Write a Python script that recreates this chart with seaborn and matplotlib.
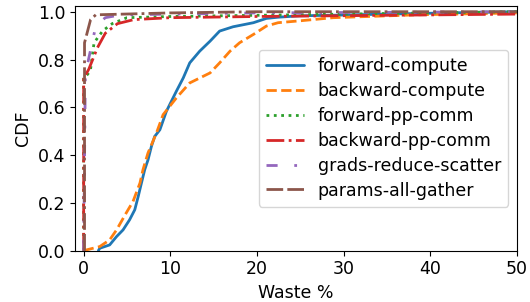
"""CDF of waste percentage per operation type."""

import matplotlib
matplotlib.use("Agg")
import matplotlib.pyplot as plt
import seaborn as sns

# CDF knots: waste % (x) and cumulative fraction (y)
fwd_compute_x = [1.7, 1.85, 3.0, 3.8, 4.55, 5.3, 5.9, 6.3, 6.67, 7.05, 7.43, 7.82, 8.2,
                 8.8, 9.55, 10.7, 11.5, 12.25, 13.4, 14.6, 15.7, 17.25, 19.6, 21.1,
                 22.45, 25.0, 28.5, 35.0, 42.0, 50.0]
fwd_compute_y = [0.0, 0.01, 0.024, 0.059, 0.087, 0.129, 0.171, 0.227, 0.283, 0.339, 0.38,
                 0.436, 0.478, 0.506, 0.583, 0.667, 0.723, 0.786, 0.835, 0.877, 0.919,
                 0.937, 0.954, 0.972, 0.977, 0.983, 0.985, 0.99, 0.995, 1.0]

bwd_compute_x = [0.0, 0.3, 1.85, 3.0, 3.8, 4.9, 5.7, 6.5, 6.85, 7.43, 8.4, 9.17, 10.7,
                 12.25, 14.6, 15.7, 16.9, 18.0, 19.6, 21.1, 22.45, 25.0, 28.8, 38.5, 50.0]
bwd_compute_y = [0.0, 0.003, 0.017, 0.045, 0.087, 0.157, 0.206, 0.283, 0.339, 0.409,
                 0.492, 0.569, 0.639, 0.702, 0.744, 0.786, 0.835, 0.87, 0.905, 0.94,
                 0.954, 0.962, 0.975, 0.987, 0.995]

fwd_pp_x = [0.0, 0.0, 0.5, 0.8, 1.2, 2.2, 3.3, 5.0, 10.0, 30.0, 50.0]
fwd_pp_y = [0.0, 0.72, 0.74, 0.76, 0.87, 0.92, 0.95, 0.975, 0.98, 0.99, 1.0]

bwd_pp_x = [0.0, 0.0, 0.6, 1.6, 2.5, 3.9, 5.8, 10.0, 20.0, 50.0]
bwd_pp_y = [0.0, 0.72, 0.76, 0.85, 0.91, 0.95, 0.967, 0.975, 0.98, 0.99]

grads_rs_x = [0.0, 0.2, 0.5, 1.4, 2.5, 4.3, 20.0, 50.0]
grads_rs_y = [0.0, 0.75, 0.79, 0.94, 0.975, 0.987, 0.995, 1.0]

params_ag_x = [0.1, 0.1, 0.8, 1.4, 10.0, 20.0, 50.0]
params_ag_y = [0.0, 0.87, 0.967, 0.987, 0.995, 1.0, 1.0]

series = [
    ("forward-compute", fwd_compute_x, fwd_compute_y, "#1f77b4", "-"),
    ("backward-compute", bwd_compute_x, bwd_compute_y, "#ff7f0e", "--"),
    ("forward-pp-comm", fwd_pp_x, fwd_pp_y, "#2ca02c", ":"),
    ("backward-pp-comm", bwd_pp_x, bwd_pp_y, "#d62728", "-."),
    ("grads-reduce-scatter", grads_rs_x, grads_rs_y, "#9467bd", (0, (4, 6, 1, 6))),
    ("params-all-gather", params_ag_x, params_ag_y, "#8c564b", (0, (6, 1.5, 6, 1.5, 1, 1.5))),
]

sns.set_style("ticks")
plt.rcParams["font.family"] = ["DejaVu Sans"]
plt.rcParams.update({"text.color": "black", "axes.labelcolor": "black",
                     "axes.edgecolor": "black", "xtick.color": "black",
                     "ytick.color": "black"})

fig = plt.figure(figsize=(5.3, 3.02), dpi=100)
ax = fig.add_axes([0.1415, 0.170, 0.8335, 0.811])

for name, xs, ys, color, ls in series:
    sns.lineplot(x=xs, y=ys, ax=ax, color=color, linestyle=ls, linewidth=2,
                 estimator=None, sort=False, label=name)

ax.set_xlim(-1, 50)
ax.set_ylim(0, 1.025)
ax.set_xticks([0, 10, 20, 30, 40, 50])
ax.set_yticks([0.0, 0.2, 0.4, 0.6, 0.8, 1.0])
ax.tick_params(labelsize=12.5)
ax.set_xlabel("Waste %", fontsize=12.5)
ax.set_ylabel("CDF", fontsize=12.5)
ax.legend(loc="center right", fontsize=12.5, handlelength=2.2, labelspacing=0.4)

fig.savefig("out.png", dpi=100)
plt.close(fig)
